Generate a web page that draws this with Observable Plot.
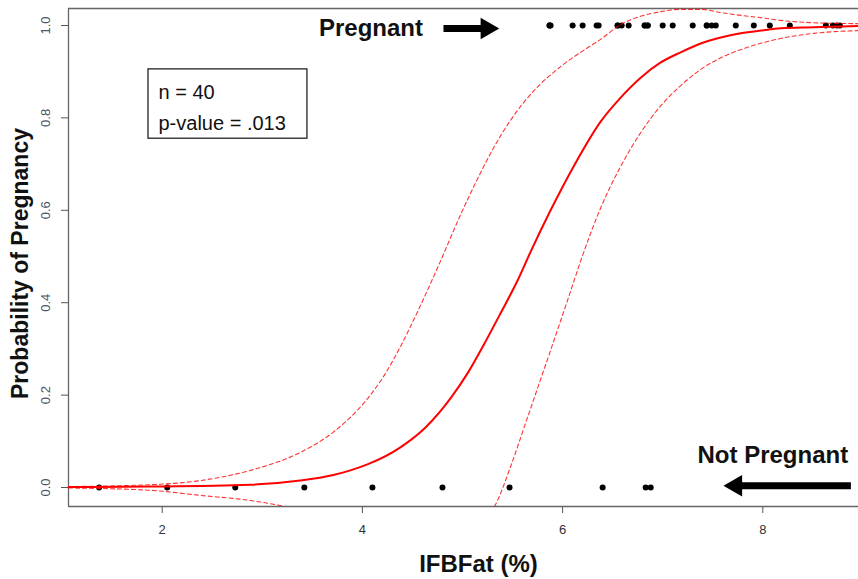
<!DOCTYPE html>
<html><head><meta charset="utf-8">
<script src="https://cdn.jsdelivr.net/npm/d3@7"></script>
<script src="https://cdn.jsdelivr.net/npm/@observablehq/plot@0.6"></script>
<style>
body{margin:0;background:#fff;}
g[aria-label="arrow"]{filter:drop-shadow(2px 3px 2px rgba(0,0,0,0.35));}
</style></head><body><div id="chart"></div>
<script>
// Observations (IFBFat %), pregnant (y = 1) and not pregnant (y = 0)
const pregnantX = [5.87, 5.87, 5.88, 6.10, 6.20, 6.34, 6.36, 6.55, 6.55, 6.59, 6.66, 6.82, 6.82, 6.85, 6.85,
                   7.00, 7.10, 7.30, 7.44, 7.44, 7.49, 7.53, 7.73, 7.91, 8.07, 8.27, 8.63, 8.70, 8.74, 8.77];
const notPregnantX = [1.37, 2.05, 2.73, 3.42, 4.10, 4.80, 5.47, 6.40, 6.83, 6.88];

// Fitted probability curve
const fitX = [1.064, 1.88, 2.88, 3.38, 3.71, 3.88, 4.05, 4.38, 4.63, 4.88, 5.05, 5.21, 5.38, 5.55, 5.68, 5.88,
              6.11, 6.38, 6.58, 6.78, 6.98, 7.18, 7.38, 7.58, 7.78, 7.98, 8.18, 8.51, 8.96];
const fitY = [0.001, 0.002, 0.006, 0.015, 0.027, 0.037, 0.050, 0.087, 0.130, 0.193, 0.247, 0.308, 0.377, 0.448, 0.510, 0.600,
              0.695, 0.792, 0.844, 0.887, 0.920, 0.942, 0.961, 0.974, 0.983, 0.989, 0.994, 0.996, 0.999];

// Upper confidence band
const upperX = [1.064, 1.88, 2.38, 2.88, 3.38, 3.71, 3.88, 4.05, 4.21, 4.38, 4.55, 4.78, 4.98, 5.15, 5.31, 5.48,
                5.71, 5.98, 6.25, 6.38, 6.58, 6.78, 6.98, 7.18, 7.38, 7.58, 7.78, 7.98, 8.18, 8.51, 8.96];
const upperY = [0.002, 0.006, 0.015, 0.037, 0.076, 0.120, 0.152, 0.192, 0.240, 0.305, 0.380, 0.490, 0.590, 0.668, 0.735, 0.795,
                0.858, 0.911, 0.952, 0.970, 1.002, 1.020, 1.030, 1.035, 1.035, 1.028, 1.022, 1.017, 1.011, 1.006, 1.004];

// Lower confidence band (leaves the plot region between ~3.2 and ~5.3)
const lowerX = [1.064, 1.88, 2.38, 2.88, 3.23, 4.3, 5.32, 5.35, 5.48, 5.65, 5.88, 6.08, 6.18, 6.38, 6.58, 6.78,
                6.98, 7.18, 7.38, 7.58, 7.85, 8.18, 8.51, 8.96];
const lowerY = [-0.001, -0.006, -0.017, -0.028, -0.041, NaN, -0.041, -0.028, 0.045, 0.152, 0.297, 0.425, 0.490, 0.605, 0.695, 0.768,
                0.826, 0.870, 0.905, 0.930, 0.953, 0.972, 0.983, 0.989];

// Axes
const xDomain = [1.064, 8.956];
const yDomain = [-0.0411, 1.0368];
const xTicks = [2, 4, 6, 8];
const yTicks = [0, 0.2, 0.4, 0.6, 0.8, 1.0];
const xTitle = "IFBFat (%)";
const yTitle = "Probability of Pregnancy";

// Annotations
const labelText = ["Pregnant", "Not Pregnant"];
const labelX = [4.086, 8.10];
const labelY = [0.9935, 0.069];
const shaftX1 = [4.81, 7.74];
const shaftX2 = [5.20, 8.88];
const shaftY = [0.9935, 0.004];
const headX = [5.243, 7.731];
const headRotate = [90, -90];
const boxX = [1.863, 3.451];
const boxY = [0.755, 0.905];
const legendLines = ["n = 40", "p-value = .013"];
const legendX = [1.963, 1.963];
const legendY = [0.855, 0.788];

const points = [
  ...pregnantX.map(x => ({x, y: 1})),
  ...notPregnantX.map(x => ({x, y: 0}))
];
const zipXY = (xs, ys) => xs.map((x, i) => ({x, y: ys[i]}));
const fit = zipXY(fitX, fitY);
const upper = zipXY(upperX, upperY);
const lower = zipXY(lowerX, lowerY);
const labels = labelText.map((t, i) => ({t, x: labelX[i], y: labelY[i]}));
const shafts = shaftX1.map((x1, i) => ({x1, x2: shaftX2[i], y: shaftY[i]}));
const heads = headX.map((x, i) => ({x, y: shaftY[i], r: headRotate[i]}));
const legend = legendLines.map((t, i) => ({t, x: legendX[i], y: legendY[i]}));

const chart = Plot.plot({
  width: 858,
  height: 579,
  marginLeft: 68,
  marginTop: 8,
  marginRight: 0,
  marginBottom: 73,
  x: {domain: xDomain},
  y: {domain: yDomain},
  style: {fontFamily: "'Liberation Sans', Arial, sans-serif", fontSize: "13px", background: "white"},
  marks: [
    Plot.axisX({ticks: xTicks, tickSize: 7, tickPadding: 11, fontSize: 13, stroke: "#555", fill: "#333", label: null}),
    Plot.axisY({ticks: yTicks, tickFormat: d3.format(".1f"), tickSize: 7, tickRotate: -90, tickPadding: 12, fontSize: 13, stroke: "#555", fill: "#4a5566", label: null}),
    Plot.ruleY([yDomain[0], yDomain[1]], {stroke: "#666", strokeWidth: 1.3}),
    Plot.ruleX([xDomain[0]], {stroke: "#666", strokeWidth: 1.3}),
    Plot.dot(points, {x: "x", y: "y", r: 3, fill: "black", stroke: "none"}),
    Plot.line(upper, {x: "x", y: "y", stroke: "red", strokeOpacity: 0.8, strokeWidth: 1.1, strokeDasharray: "4,3", curve: "monotone-x", clip: true}),
    Plot.line(lower, {x: "x", y: "y", stroke: "red", strokeOpacity: 0.8, strokeWidth: 1.1, strokeDasharray: "4,3", curve: "monotone-x", clip: true}),
    Plot.line(fit, {x: "x", y: "y", stroke: "red", strokeWidth: 2, curve: "monotone-x", clip: true}),
    Plot.rect([0], {x1: () => boxX[0], x2: () => boxX[1], y1: () => boxY[0], y2: () => boxY[1], fill: "white", stroke: "#111", strokeWidth: 1.2}),
    Plot.text(legend, {x: "x", y: "y", text: "t", textAnchor: "start", fontSize: 20, fill: "#111"}),
    Plot.text(labels, {x: "x", y: "y", text: "t", fontSize: 24, fontWeight: "bold", fill: "#111"}),
    Plot.link(shafts, {x1: "x1", x2: "x2", y1: "y", y2: "y", stroke: "black", strokeWidth: 7, strokeLinecap: "butt", ariaLabel: "arrow"}),
    Plot.dot(heads, {x: "x", y: "y", symbol: "triangle", r: 8, rotate: "r", fill: "black", stroke: "none", ariaLabel: "arrow"}),
    Plot.text([yTitle], {text: d => d, frameAnchor: "left", textAnchor: "middle", lineAnchor: "middle", rotate: -90, dx: -48, dy: 6, fontSize: 23, fontWeight: "bold", fill: "#111"}),
    Plot.text([xTitle], {text: d => d, frameAnchor: "bottom", textAnchor: "middle", lineAnchor: "middle", dx: 15, dy: 58, fontSize: 24, fontWeight: "bold", fill: "#111"})
  ]
});
document.getElementById("chart").appendChild(chart);
</script></body></html>
